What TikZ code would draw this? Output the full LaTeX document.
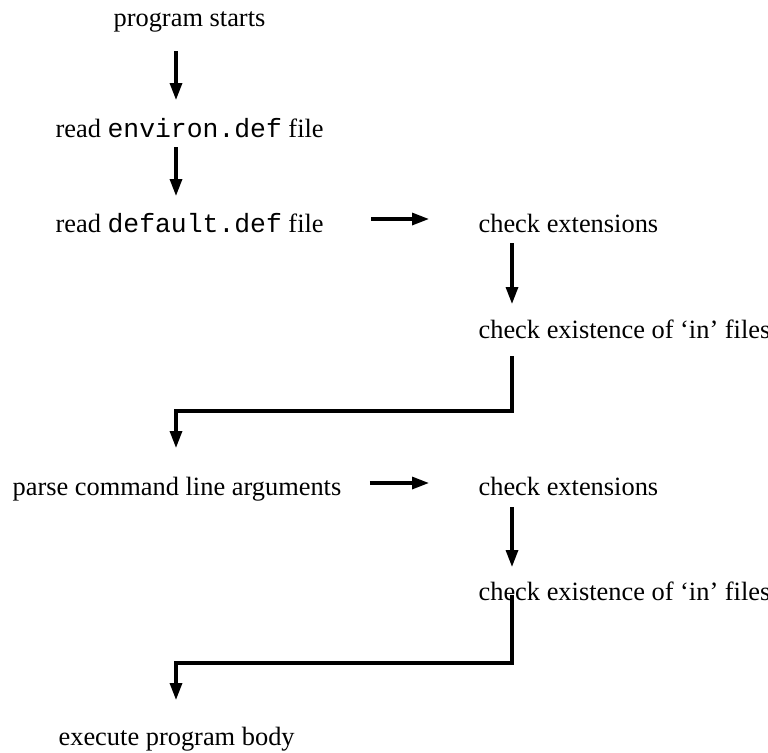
\documentclass[tikz,border=0pt]{standalone}
\usepackage{fontspec}
\setmainfont{Liberation Serif}
\setmonofont{Liberation Mono}
\usetikzlibrary{arrows.meta}

\begin{document}
\begin{tikzpicture}[x=0.5pt,y=-0.5pt,line width=1.6pt,>={Triangle[length=8.5pt,width=6pt]}]
\tikzset{txt/.style={inner sep=0pt,anchor=base west,font=\fontsize{13.2}{16}\selectfont},
  flow/.style={->}}
\useasboundingbox (0,0) rectangle (768,752);
\coordinate (lcol) at (176,0);
\coordinate (rcol) at (512,0);
\coordinate (bend1) at (176,411);
\coordinate (bend2) at (176,663);
\node[txt] (start) at (112,26) {program starts};
\node[txt] (env) at (54,137) {read \texttt{environ.def} file};
\node[txt] (def) at (54,232) {read \texttt{default.def} file};
\node[txt] (ext1) at (477,232) {check extensions};
\node[txt] (exist1) at (477,338) {check existence of `in' files};
\node[txt] (parse) at (11,495) {parse command line arguments};
\node[txt] (ext2) at (477,495) {check extensions};
\node[txt] (exist2) at (477,600) {check existence of `in' files};
\node[txt] (exec) at (57,745) {execute program body};
\draw[flow,shorten <=12.5pt,shorten >=18.5pt] (start.base -| lcol) -- (env.base -| lcol);
\draw[flow,shorten <=5pt,shorten >=18pt] (env.base -| lcol) -- (def.base -| lcol);
\draw[flow,shorten <=23pt,shorten >=24pt] ([yshift=6.5pt]def.base east) -- ([yshift=6.5pt]ext1.base west);
\draw[flow,shorten <=5.5pt,shorten >=17pt] (ext1.base -| rcol) -- (exist1.base -| rcol);
\draw[flow,shorten <=9pt,shorten >=23.5pt] (exist1.base -| rcol) |- (bend1) -- (parse.base -| lcol);
\draw[flow,shorten <=13.5pt,shorten >=24pt] ([yshift=6pt]parse.base east) -- ([yshift=6pt]ext2.base west);
\draw[flow,shorten <=6pt,shorten >=16.5pt] (ext2.base -| rcol) -- (exist2.base -| rcol);
\draw[flow,shorten >=22.5pt] (exist2.mid -| rcol) |- (bend2) -- (exec.base -| lcol);
\end{tikzpicture}
\end{document}
